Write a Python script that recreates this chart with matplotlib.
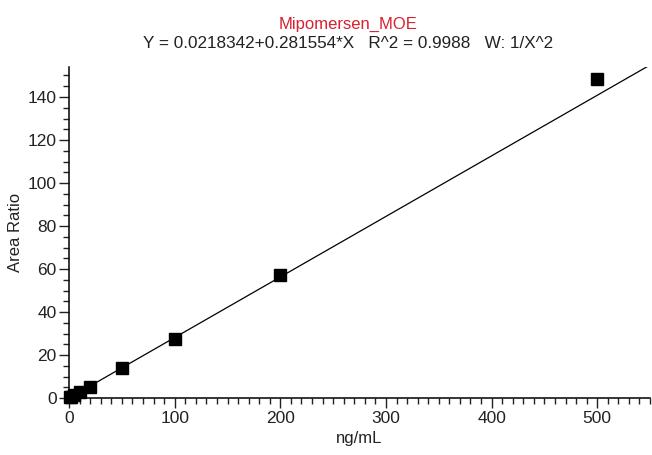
import matplotlib.pyplot as plt
import numpy as np
from matplotlib.ticker import MultipleLocator

plt.rcParams['font.family'] = ['Liberation Sans', 'DejaVu Sans']

# calibration standards (ng/mL) and area ratios
conc = [1, 2, 5, 10, 20, 50, 100, 200, 500]
ratio = [0.3, 0.6, 1.4, 2.8, 5.4, 14.2, 27.6, 57.4, 148.5]

# fit shown in the title
intercept = 0.0218342
slope = 0.281554

fig = plt.figure(figsize=(6.52, 4.55), dpi=100)
ax = fig.add_axes([0.106, 0.125, 0.891, 0.728])

xs = np.array([0, 550])
ax.plot(xs, intercept + slope * xs, color='black', lw=0.9)
ax.plot(conc, ratio, 's', color='black', markersize=8.5, clip_on=False)

ax.set_xlim(0, 550)
ax.set_ylim(0, 154)
ax.xaxis.set_major_locator(MultipleLocator(100))
ax.xaxis.set_minor_locator(MultipleLocator(10))
ax.yaxis.set_major_locator(MultipleLocator(20))
ax.yaxis.set_minor_locator(MultipleLocator(5))
ax.tick_params(which='major', length=7, width=1, labelsize=12.5, color='#222222',
               labelcolor='#222222', pad=2)
ax.tick_params(which='minor', length=4, width=1, color='#222222')

for s in ['top', 'right']:
    ax.spines[s].set_visible(False)
for s in ['left', 'bottom']:
    ax.spines[s].set_linewidth(1.1)

ax.set_xlabel('ng/mL', fontsize=12, labelpad=4, color='#222222')
ax.set_ylabel('Area Ratio', fontsize=12, labelpad=3, color='#222222')

fig.text(0.534, 0.947, 'Mipomersen_MOE', color='#d8202f', fontsize=12,
         ha='center', va='center')
fig.text(0.534, 0.905, 'Y = 0.0218342+0.281554*X   R^2 = 0.9988   W: 1/X^2',
         fontsize=12.3, ha='center', va='center', color='#222222')

plt.savefig('out.png')
